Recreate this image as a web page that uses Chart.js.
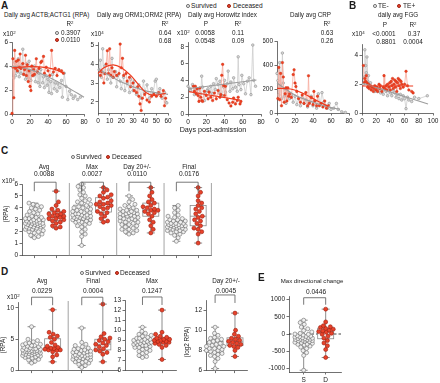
<!DOCTYPE html>
<html>
<head>
<meta charset="utf-8">
<script src="https://cdn.jsdelivr.net/npm/chart.js@4.4.1/dist/chart.umd.min.js"></script>
<style>
  body { margin: 0; background: #fff; }
  #fig { position: relative; width: 440px; height: 383px; overflow: hidden; font-family: "Liberation Sans", Arial, sans-serif; color: #1a1a1a; }
  #fig canvas { position: absolute; }
  .t { position: absolute; white-space: nowrap; line-height: 1; z-index: 2; }
  .L { font-weight: bold; }
  .sup { font-size: 0.68em; position: relative; top: -0.4em; }
  .dot { position: absolute; width: 3.8px; height: 3.8px; border-radius: 50%; box-sizing: border-box; z-index: 2; }
  .dot.s { background: #eee; border: 0.8px solid #666; }
  .dot.d { background: #e8432b; border: 0.8px solid #9b1c0e; }
</style>
</head>
<body>
<div id="fig"></div>
<script>
// ---- A: daily averages, [day, value] ----
const actbSurvived = [[1,3.9],[2,3.0],[3,4.3],[4,3.2],[5,4.0],[6,3.5],[7,4.6],[8,3.1],[9,3.9],[10,3.4],[11,4.1],[12,5.4],[13,3.3],[14,3.8],[15,2.9],[16,4.2],[17,3.6],[18,3.0],[19,4.4],[20,3.5],[21,2.8],[22,3.9],[24,3.2],[25,4.0],[26,2.7],[28,3.6],[29,2.6],[30,3.4],[31,2.3],[32,3.7],[34,2.6],[35,3.1],[36,2.2],[38,3.2],[39,2.4],[40,2.9],[41,1.8],[43,2.7],[44,1.7],[45,3.3],[47,2.1],[48,2.6],[50,1.9],[51,2.5],[53,2.2],[55,2.8],[56,1.4],[58,3.4],[60,2.3],[62,1.2],[64,1.9],[66,1.6],[68,1.3],[70,1.5],[73,1.2],[76,1.4]];
const actbDeceased = [[0,0.05],[1,4.6],[2,1.35],[3,5.3],[4,3.8],[5,4.4],[6,3.6],[7,4.5],[8,3.9],[9,5.0],[10,3.8],[12,4.2],[13,3.3],[14,3.7],[15,4.9],[16,3.2],[17,4.1],[18,2.7],[19,3.6],[20,2.3],[21,1.95],[22,4.0],[23,3.2],[24,3.7],[25,3.3],[27,4.6],[28,3.5],[30,3.8],[32,4.3],[33,4.4],[35,4.8],[36,3.4],[38,3.9],[40,3.6],[42,3.2],[44,5.3],[46,3.5],[48,3.8],[50,3.2],[52,3.7],[55,3.6],[57,3.4]];
const actbSurvivedFit = [[0,4.0],[20,3.7],[40,3.1],[60,2.3],[80,1.4]];
const actbDeceasedFit = [[0,3.85],[20,3.95],[40,3.85],[50,3.65],[57,3.4]];

const ormSurvived = [[1,3.7],[2,4.2],[3,3.3],[4,4.8],[5,3.5],[6,3.9],[8,3.2],[9,3.7],[11,3.0],[12,4.3],[13,3.3],[15,3.6],[16,2.8],[17,3.4],[19,3.1],[20,2.7],[22,3.3],[23,2.6],[25,3.0],[27,2.5],[28,3.2],[30,2.6],[31,3.1],[33,2.4],[35,2.9],[37,2.2],[39,3.1],[40,2.5],[42,2.9],[44,2.2],[46,2.7],[47,2.4],[49,3.1],[50,3.2],[51,2.4],[53,2.7],[55,2.2],[57,2.5],[58,2.0],[59,1.95]];
const ormDeceased = [[2,3.4],[3,3.6],[5,3.0],[6,3.5],[7,4.0],[8,4.7],[9,3.5],[10,4.8],[11,3.4],[12,3.8],[13,3.3],[14,3.6],[16,3.4],[18,3.5],[19,5.05],[20,3.8],[21,4.3],[22,3.4],[24,3.5],[25,3.1],[27,3.3],[28,2.8],[30,3.0],[31,2.6],[33,2.5],[34,2.8],[35,2.3],[36,1.9],[37,1.55],[38,2.2],[40,2.4],[42,2.1],[44,2.0],[46,2.3],[48,2.4],[50,2.3],[52,2.5],[54,2.3],[56,2.6],[57,1.8],[58,2.2]];
const ormSurvivedFit = [[0,3.75],[20,3.05],[40,2.6],[60,2.4]];
const ormDeceasedFit = [[0,3.5],[5,3.8],[13,3.95],[20,3.8],[28,3.4],[35,2.9],[41,2.5],[48,2.35],[58,2.45]];

const horowitzSurvived = [[0,3.3],[2,3.0],[3,2.8],[5,3.5],[7,2.3],[9,3.0],[10,2.5],[12,3.0],[14,2.4],[15,4.5],[16,3.2],[18,1.6],[19,2.4],[21,2.8],[22,3.0],[24,2.6],[25,3.3],[27,2.4],[28,3.6],[30,2.9],[31,4.2],[33,3.5],[34,2.5],[35,3.9],[37,2.2],[39,3.2],[40,4.0],[41,2.6],[43,3.6],[44,5.1],[46,2.7],[47,3.8],[49,3.0],[50,4.3],[52,3.2],[54,2.7],[55,6.8],[56,3.5],[58,2.9],[59,4.6],[61,3.6],[63,2.4],[65,3.9],[67,4.3],[69,2.3],[71,8.2],[72,4.0],[74,3.3]];
const horowitzDeceased = [[6,3.3],[7,2.7],[8,3.3],[9,2.4],[10,3.0],[11,2.2],[12,1.5],[13,3.1],[14,2.0],[15,1.6],[16,1.5],[18,2.7],[20,2.2],[22,1.8],[23,2.6],[25,2.0],[27,1.6],[29,2.5],[31,1.8],[33,2.8],[35,2.0],[36,2.3],[37,4.6],[38,5.9],[39,3.4],[40,2.2],[41,3.3],[43,1.7],[45,1.3],[47,0.95],[49,1.4],[50,1.9],[52,1.2],[54,1.6],[55,2.0],[57,1.2],[58,1.5]];
const horowitzSurvivedFit = [[0,3.0],[75,4.05]];
const horowitzDeceasedFit = [[1,2.65],[57,1.65]];

const crpSurvived = [[0,330],[1,270],[2,150],[3,420],[4,230],[5,120],[6,500],[7,250],[8,140],[9,200],[10,80],[12,180],[14,120],[16,150],[18,90],[20,140],[22,70],[24,120],[26,60],[28,130],[30,80],[32,110],[34,50],[36,90],[38,140],[40,60],[42,100],[44,40],[46,160],[48,70],[50,170],[52,90],[54,60],[56,40],[58,80],[60,30],[63,40],[66,80],[68,30],[72,10],[76,5]];
const crpDeceased = [[1,120],[2,380],[3,110],[4,330],[5,60],[6,420],[7,300],[8,90],[9,160],[10,210],[11,100],[12,210],[13,140],[14,160],[16,130],[18,320],[19,360],[20,250],[21,220],[22,180],[24,120],[26,90],[28,150],[30,80],[32,170],[34,60],[35,310],[36,80],[38,130],[40,70],[41,180],[42,100],[44,60],[45,140],[47,60],[49,80],[51,50],[53,100],[55,40],[57,60]];
const crpSurvivedFit = [[0,250],[20,150],[40,90],[60,45],[70,30]];
const crpDeceasedFit = [[0,205],[15,200],[30,160],[45,100],[57,55]];

// ---- B: FGG by TE status ----
const fggTeNeg = [[2,2.0],[3,2.5],[4,4.4],[5,3.3],[6,2.8],[7,3.9],[8,2.2],[9,2.6],[10,1.9],[12,2.1],[14,1.7],[16,1.8],[18,1.5],[20,1.7],[22,1.5],[24,1.7],[26,1.4],[28,1.6],[30,1.3],[32,1.7],[34,1.5],[36,1.2],[38,1.6],[40,1.4],[42,1.2],[44,1.6],[46,1.4],[48,1.1],[50,1.3],[52,1.0],[54,1.3],[56,0.9],[58,1.2],[60,1.0],[62,0.3],[64,1.1],[66,0.9],[70,0.8],[74,1.1],[80,1.0],[92,1.2]];
const fggTePos = [[2,3.3],[3,2.1],[4,2.4],[5,2.2],[6,2.6],[7,2.1],[8,1.8],[9,2.0],[10,1.7],[12,1.9],[13,1.6],[14,1.8],[16,1.5],[17,1.7],[18,1.9],[20,1.6],[21,1.8],[22,1.5],[24,2.0],[25,1.7],[26,1.9],[28,1.5],[30,1.8],[31,2.6],[32,1.7],[34,1.9],[35,1.6],[36,2.0],[38,1.8],[39,2.1],[40,1.6],[41,2.2],[42,1.9],[43,2.4],[44,1.7],[45,2.0],[46,2.3],[47,1.8],[48,2.2],[49,1.5],[50,2.1],[51,2.4],[52,1.9],[53,2.3],[54,1.7],[55,2.2],[56,2.0],[58,1.8],[60,2.0],[62,2.9],[64,1.9],[66,1.6],[70,1.5],[72,1.4]];
const fggTeNegFit = [[0,2.08],[93,0.62]];
const fggTePosFit = [[0,1.88],[72,1.88]];

// ---- C: per-patient summaries (x10^4 RPA) ----
const cAvgS = [1.5,1.6,1.7,1.8,1.9,2.0,2.0,2.1,2.2,2.2,2.3,2.3,2.4,2.4,2.4,2.5,2.5,2.5,2.6,2.6,2.6,2.7,2.7,2.7,2.7,2.8,2.8,2.8,2.9,2.9,2.9,3.0,3.0,3.0,3.1,3.1,3.2,3.2,3.3,3.4,3.5,3.6,3.7,3.8,3.9,4.0,4.1,4.2,4.3,4.4];
const cAvgD = [2.3,2.4,2.5,2.7,2.8,2.9,3.0,3.1,3.1,3.2,3.3,3.3,3.4,3.5,3.5,3.6,3.7,3.8,3.9,4.2,4.5,5.4];
const cMaxS = [0.85,1.6,1.8,2.0,2.2,2.4,2.5,2.6,2.7,2.8,2.8,2.9,2.9,3.0,3.0,3.1,3.1,3.2,3.2,3.2,3.3,3.3,3.3,3.4,3.4,3.4,3.5,3.5,3.6,3.6,3.7,3.7,3.8,3.8,3.9,4.0,4.0,4.1,4.2,4.3,4.4,4.5,4.6,4.7,4.8,5.0,5.1,5.3,5.5,5.7,5.8,6.0];
const cMaxD = [2.8,2.9,3.1,3.3,3.5,3.6,3.7,3.9,4.0,4.1,4.2,4.3,4.3,4.4,4.5,4.6,4.8,4.9,5.0,5.1,5.3,5.5,5.7];
const cDay20S = [1.8,1.9,2.0,2.1,2.2,2.2,2.3,2.4,2.5,2.6,2.6,2.7,2.8,2.8,2.9,3.0,3.0,3.1,3.1,3.2,3.2,3.3,3.3,3.4,3.4,3.5,3.5,3.5,3.6,3.6,3.7,3.7,3.8,3.8,3.9,4.0,4.1,4.2,4.3,4.5,4.7,5.0];
const cDay20D = [1.9,2.2,2.5,2.8,3.0,3.3,3.5,3.6,3.7,3.8,3.8,3.9,4.0,4.1,4.2,4.4,4.5,4.7,5.0,5.3,5.7];
const cFinalS = [1.2,1.5,1.7,1.8,1.9,2.0,2.0,2.1,2.1,2.2,2.2,2.3,2.3,2.3,2.4,2.4,2.4,2.5,2.5,2.5,2.5,2.6,2.6,2.6,2.7,2.7,2.7,2.8,2.8,2.9,2.9,3.0,3.0,3.1,3.2,3.3,3.4,3.6,3.8,4.0,4.2];
const cFinalD = [1.05,1.8,2.0,2.2,2.3,2.5,2.7,2.9,3.0,3.2,3.3,3.5,3.7,3.9,4.0,4.2,4.4,4.6,5.0,5.3,5.7];

// ---- D ----
const dAvgS = [1.2,1.5,1.7,1.8,2.0,2.1,2.2,2.3,2.3,2.4,2.5,2.5,2.6,2.7,2.7,2.8,2.8,2.9,2.9,3.0,3.0,3.1,3.1,3.1,3.2,3.2,3.3,3.3,3.4,3.4,3.5,3.5,3.6,3.7,3.8,3.9,4.0,4.0,4.1,4.2,4.3,4.4,4.6,4.8,5.0,7.0];
const dAvgD = [1.4,2.2,2.5,3.0,3.2,3.3,3.3,3.4,3.5,3.6,3.7,3.9,4.1,4.5,5.0,5.3,5.5,5.8,6.1,9.7];
const dFinalS = [0.5,0.8,1.0,1.2,1.3,1.4,1.5,1.6,1.7,1.8,1.9,2.0,2.0,2.1,2.2,2.3,2.3,2.4,2.4,2.5,2.5,2.6,2.7,2.8,2.9,3.0,3.0,3.1,3.2,3.3,3.4,3.5,3.6,3.8,4.0,4.2,4.5,6.8];
const dFinalD = [1.4,2.6,2.9,3.1,3.3,3.5,3.8,4.0,4.2,4.4,4.6,4.8,5.0,5.2,5.4,5.9,10.6];
const dMaxS = [7.3,7.4,7.5,7.7,7.8,7.9,8.0,8.1,8.2,8.3,8.3,8.4,8.5,8.5,8.6,8.6,8.7,8.7,8.8,8.8,8.8,8.9,8.9,9.0,9.0,9.1,9.1,9.2,9.2,9.3,9.4,9.5,9.6,9.7,9.9,10.3];
const dMaxD = [7.1,8.3,8.5,8.6,8.7,8.8,8.8,8.9,8.9,9.0,9.0,9.1,9.1,9.2,9.3,9.4,9.6,9.8,12.0];
const dDay20S = [6.2,6.9,7.2,7.4,7.5,7.6,7.7,7.8,7.9,8.0,8.0,8.1,8.2,8.2,8.3,8.4,8.4,8.5,8.6,8.7,8.8,8.9,9.0,9.1,9.2,9.3,9.5,9.7,10.3];
const dDay20D = [7.4,8.0,8.3,8.4,8.5,8.6,8.7,8.8,8.9,9.0,9.1,9.2,9.4,9.6,10.0,11.7];

// ---- E ----
const eChangeS = [-1050,-620,-540,-480,-420,-380,-350,-320,-300,-290,-270,-250,-240,-220,-210,-200,-190,-180,-170,-160,-150,-150,-140,-130,-120,-110,-100,-90,-80,-70,-60,-50,-30,-10,0,20,60,100,150,200,280,330,400];
const eChangeD = [-680,-450,-340,-260,-190,-120,-60,-10,20,50,70,90,110,140,160,190,210,240,350,720];

const fig = document.getElementById('fig');
Chart.defaults.font.family = '"Liberation Sans", Arial, sans-serif';
Chart.defaults.font.size = 6.5;
Chart.defaults.color = '#1a1a1a';

function T(x, y, html, align, size, cls) {
  const d = document.createElement('div');
  const fs = size || 6.4;
  d.className = 't ' + (cls || '');
  d.innerHTML = html;
  d.style.fontSize = fs + 'px';
  d.style.left = x + 'px';
  d.style.top = (y - fs / 2) + 'px';
  if (align === 'c') d.style.transform = 'translateX(-50%)';
  if (align === 'v') { d.style.top = y + 'px'; d.style.transform = 'translate(-50%,-50%) rotate(-90deg)'; }
  fig.appendChild(d);
}
function dot(x, y, kind) {
  const d = document.createElement('div');
  d.className = 'dot ' + kind;
  d.style.left = (x - 1.9) + 'px';
  d.style.top = (y - 1.9) + 'px';
  fig.appendChild(d);
}

function makeCanvas(area, yW, xH, pt, pr) {
  const c = document.createElement('canvas');
  const w = area.r - area.l + yW + pr, h = area.b - area.t + pt + xH;
  c.width = w; c.height = h;
  c.style.left = (area.l - yW) + 'px';
  c.style.top = (area.t - pt) + 'px';
  c.style.width = w + 'px';
  c.style.height = h + 'px';
  fig.appendChild(c);
  return c;
}

function axis(min, max, ticks, size, labels) {
  return {
    type: 'linear', min, max,
    afterBuildTicks: s => { s.ticks = ticks.map(v => ({ value: v })); },
    afterFit: s => { if (s.isHorizontal()) s.height = size; else s.width = size; },
    grid: { drawOnChartArea: false, tickLength: 2.5, color: '#333', lineWidth: 0.7 },
    border: { color: '#333', width: 0.7 },
    ticks: { padding: 1.5, maxRotation: 0, autoSkip: false, font: { size: 6.5 },
      callback: (v, i) => labels ? labels[i] : String(v) }
  };
}

function baseOptions(pt, pr, xs, ys) {
  return {
    responsive: false, animation: false, devicePixelRatio: 1,
    layout: { padding: { left: 0, top: pt, right: pr, bottom: 0 } },
    plugins: { legend: { display: false }, tooltip: { enabled: false } },
    scales: { x: xs, y: ys }
  };
}

const pts = pairs => pairs.map(([x, y]) => ({ x, y }));

function linePanel(area, xr, xt, yr, yt, surv, dec, survFit, decFit) {
  const yW = 14, xH = 12, pt = 6, pr = 8;
  const c = makeCanvas(area, yW, xH, pt, pr);
  new Chart(c, {
    type: 'scatter',
    data: { datasets: [
      { data: pts(decFit), showLine: true, borderColor: '#ee3a1e', borderWidth: 1.2, pointRadius: 0, cubicInterpolationMode: 'monotone', order: 0, clip: false },
      { data: pts(survFit), showLine: true, borderColor: '#9d9d9d', borderWidth: 1.1, pointRadius: 0, cubicInterpolationMode: 'monotone', order: 1, clip: false },
      { data: pts(dec), showLine: true, borderColor: '#f7ab9d', borderWidth: 0.8, pointRadius: 1.3, pointBackgroundColor: '#f0401f', pointBorderColor: '#c8301a', pointBorderWidth: 0.4, order: 2, clip: false },
      { data: pts(surv), showLine: true, borderColor: '#cdcdcd', borderWidth: 0.8, pointRadius: 1.3, pointBackgroundColor: '#d6d6d6', pointBorderColor: '#858585', pointBorderWidth: 0.5, order: 3, clip: false }
    ] },
    options: baseOptions(pt, pr, axis(xr[0], xr[1], xt, xH), axis(yr[0], yr[1], yt, yW))
  });
}

function quant(s, p) {
  const i = (s.length - 1) * p, lo = Math.floor(i), hi = Math.ceil(i);
  return s[lo] + (s[hi] - s[lo]) * (i - lo);
}

// beeswarm with a capped half-width: horizontal offsets computed from the values
function swarm(vals, cx, pxX, pxY, y0, md, cap) {
  const placed = [];
  const steps = Math.floor(cap / 0.6);
  return vals.slice().sort((a, b) => a - b).map(v => {
    const py = (v - y0) * pxY;
    let best = 0, bestD = -1;
    for (let k = 0; k <= steps * 2; k++) {
      const o = (k % 2 ? 1 : -1) * Math.ceil(k / 2) * 0.6;
      const dmin = placed.reduce((m, p) => Math.min(m, Math.hypot(p.x - o, p.y - py)), Infinity);
      if (dmin >= md) { best = o; break; }
      if (dmin > bestD) { bestD = dmin; best = o; }
    }
    placed.push({ x: best, y: py });
    return { x: cx + best / pxX, y: v };
  });
}

function boxPlugin(groups, o) {
  return {
    id: 'boxes',
    beforeDatasetsDraw(chart) {
      const { ctx, chartArea: a, scales: { x, y } } = chart;
      ctx.save();
      ctx.lineWidth = 0.8;
      ctx.strokeStyle = '#8c8c8c';
      (o.separators || []).forEach(v => {
        const px = x.getPixelForValue(v);
        ctx.beginPath(); ctx.moveTo(px, a.top - 1); ctx.lineTo(px, a.bottom); ctx.stroke();
      });
      if (o.zero) {
        ctx.setLineDash([2.5, 2]); ctx.strokeStyle = '#111';
        const py = y.getPixelForValue(0);
        ctx.beginPath(); ctx.moveTo(a.left, py); ctx.lineTo(a.right, py); ctx.stroke();
        ctx.setLineDash([]);
      }
      const P = v => y.getPixelForValue(v);
      groups.forEach((g, i) => {
        [[g.s, i + o.pos[0]], [g.d, i + o.pos[1]]].forEach(([vals, xv]) => {
          const s = vals.slice().sort((p, q) => p - q);
          const cx = x.getPixelForValue(xv);
          const lo = P(s[0]), hi = P(s[s.length - 1]);
          ctx.strokeStyle = '#707070';
          ctx.beginPath();
          ctx.moveTo(cx, lo); ctx.lineTo(cx, hi);
          ctx.moveTo(cx - 4, lo); ctx.lineTo(cx + 4, lo);
          ctx.moveTo(cx - 4, hi); ctx.lineTo(cx + 4, hi);
          ctx.stroke();
          const q1 = P(quant(s, 0.25)), q3 = P(quant(s, 0.75)), md = P(quant(s, 0.5));
          ctx.fillStyle = '#fff';
          ctx.fillRect(cx - 8, q3, 16, q1 - q3);
          ctx.strokeStyle = '#8a8a8a';
          ctx.strokeRect(cx - 8, q3, 16, q1 - q3);
          ctx.beginPath(); ctx.moveTo(cx - 8, md); ctx.lineTo(cx + 8, md); ctx.stroke();
        });
      });
      ctx.restore();
    },
    afterDatasetsDraw(chart) {
      const { ctx, scales: { x, y } } = chart;
      ctx.save();
      ctx.strokeStyle = '#555'; ctx.lineWidth = 0.8;
      groups.forEach((g, i) => {
        const x1 = x.getPixelForValue(i + o.pos[0]), x2 = x.getPixelForValue(i + o.pos[1]);
        const top = y.getPixelForValue(o.bracket);
        ctx.beginPath();
        ctx.moveTo(x1, top + o.leg); ctx.lineTo(x1, top); ctx.lineTo(x2, top); ctx.lineTo(x2, top + o.leg);
        ctx.stroke();
      });
      ctx.restore();
    }
  };
}

function boxPanel(area, yr, yt, groups, o) {
  const yW = o.yW, xH = o.xH || 4, pt = 16, pr = 3;
  const c = makeCanvas(area, yW, xH, pt, pr);
  const n = groups.length;
  const pxX = (area.r - area.l) / n, pxY = (area.b - area.t) / (yr[1] - yr[0]);
  const ds = [], tickPos = [];
  groups.forEach((g, i) => {
    tickPos.push(i + o.pos[0], i + o.pos[1]);
    ds.push({ data: swarm(g.d, i + o.pos[1], pxX, pxY, yr[0], 4.2, 8), pointRadius: 2.0, pointBackgroundColor: '#e8432b', pointBorderColor: '#9b1c0e', pointBorderWidth: 0.6, clip: false });
    ds.push({ data: swarm(g.s, i + o.pos[0], pxX, pxY, yr[0], 4.0, 9), pointRadius: 2.0, pointBackgroundColor: '#f0f0f0', pointBorderColor: '#6a6a6a', pointBorderWidth: 0.6, clip: false });
  });
  new Chart(c, {
    type: 'scatter',
    data: { datasets: ds },
    options: baseOptions(pt, pr,
      axis(0, n, tickPos, xH, o.xLabels || tickPos.map(() => '')),
      axis(yr[0], yr[1], yt, yW, o.yLabels)),
    plugins: [boxPlugin(groups, o)]
  });
}

// ---------- row A / B ----------
linePanel({ l: 12, t: 42, r: 84, b: 114 }, [0, 80], [0, 20, 40, 60, 80], [0, 6], [0, 2, 4, 6],
  actbSurvived, actbDeceased, actbSurvivedFit, actbDeceasedFit);
linePanel({ l: 98, t: 42, r: 168, b: 113 }, [0, 60], [0, 10, 20, 30, 40, 50, 60], [1.42, 5.16], [2, 3, 4, 5],
  ormSurvived, ormDeceased, ormSurvivedFit, ormDeceasedFit);
linePanel({ l: 188, t: 42, r: 261, b: 114 }, [0, 80], [0, 20, 40, 60, 80], [0, 8.56], [0, 2, 4, 6, 8],
  horowitzSurvived, horowitzDeceased, horowitzSurvivedFit, horowitzDeceasedFit);
linePanel({ l: 277, t: 41, r: 349, b: 113 }, [0, 80], [0, 20, 40, 60, 80], [0, 600], [0, 200, 400, 600],
  crpSurvived, crpDeceased, crpSurvivedFit, crpDeceasedFit);
linePanel({ l: 362, t: 44, r: 433, b: 113 }, [0, 100], [0, 20, 40, 60, 80, 100], [0, 4.8], [0, 2, 4],
  fggTeNeg, fggTePos, fggTeNegFit, fggTePosFit);

// ---------- row C ----------
boxPanel({ l: 22, t: 184, r: 213, b: 257 }, [0, 6], [0, 1, 2, 3, 4, 5, 6],
  [{ s: cAvgS, d: cAvgD }, { s: cMaxS, d: cMaxD }, { s: cDay20S, d: cDay20D }, { s: cFinalS, d: cFinalD }],
  { yW: 10, pos: [0.26, 0.72], separators: [1, 2, 3, 4], bracket: 6.15, leg: 9 });

// ---------- row D ----------
boxPanel({ l: 18, t: 302, r: 120, b: 372 }, [0, 10.94], [0, 5, 10],
  [{ s: dAvgS, d: dAvgD }, { s: dFinalS, d: dFinalD }],
  { yW: 13, pos: [0.27, 0.69], separators: [1], bracket: 11.7, leg: 8 });
boxPanel({ l: 125, t: 300, r: 178, b: 372 }, [6, 13], [6, 7, 8, 9, 10, 11, 12, 13],
  [{ s: dMaxS, d: dMaxD }],
  { yW: 12, pos: [0.34, 0.72], bracket: 13.3, leg: 8 });
boxPanel({ l: 206, t: 300, r: 249, b: 372 }, [6, 13], [6, 8, 10, 12],
  [{ s: dDay20S, d: dDay20D }],
  { yW: 11, pos: [0.22, 0.7], bracket: 13.5, leg: 8 });

// ---------- E ----------
boxPanel({ l: 289, t: 296, r: 343, b: 372 }, [-1100, 1100], [-1000, -500, 0, 500, 1000],
  [{ s: eChangeS, d: eChangeD }],
  { yW: 24, xH: 12, pos: [0.28, 0.7], xLabels: ['S', 'D'], zero: true, bracket: 1050, leg: 7 });

// ---------- text ----------
T(1, 6, 'A', 'l', 10, 'L');
dot(188, 6, 's'); T(191, 6, 'Survived', 'l', 6.6);
dot(229, 6, 'd'); T(233, 6, 'Deceased', 'l', 6.6);
T(4, 15, 'Daily avg ACTB;ACTG1 (RPA)', 'l', 6.3);
T(70, 24, 'R<span class="sup">2</span>', 'c');
dot(57, 33, 's'); T(61, 33, '0.3907');
dot(57, 40, 'd'); T(61, 40, '0.0110');
T(3, 34, 'x10<span class="sup">2</span>');
T(97, 15, 'Daily avg ORM1;ORM2 (RPA)', 'l', 6.3);
T(91, 34, 'x10<span class="sup">4</span>');
T(165, 24, 'R<span class="sup">2</span>', 'c'); T(165, 33, '0.64', 'c'); T(165, 41, '0.68', 'c');
T(188, 15, 'Daily avg Horowitz index', 'l', 6.3);
T(177, 33, 'x10<span class="sup">2</span>');
T(206, 24, 'P', 'c'); T(205, 33, '0.0058', 'c'); T(205, 41, '0.0548', 'c');
T(238, 24, 'R<span class="sup">2</span>', 'c'); T(238, 33, '0.11', 'c'); T(238, 41, '0.09', 'c');
T(290, 15, 'Daily avg CRP', 'l', 6.3);
T(327, 24, 'R<span class="sup">2</span>', 'c'); T(327, 33, '0.63', 'c'); T(327, 41, '0.26', 'c');
T(213, 130, 'Days post-admission', 'c', 7.2);

T(349, 6, 'B', 'l', 10, 'L');
dot(375, 6, 's'); T(378, 6, 'TE-', 'l', 6.6);
dot(399, 6, 'd'); T(403, 6, 'TE+', 'l', 6.6);
T(378, 15, 'daily avg FGG', 'l', 6.3);
T(385, 25, 'P', 'c'); T(384, 34, '&lt;0.0001', 'c'); T(386, 42, '0.8801', 'c');
T(413, 25, 'R<span class="sup">2</span>', 'c'); T(414, 34, '0.37', 'c'); T(413, 42, '0.0004', 'c');
T(352, 34, 'x10<span class="sup">4</span>');

T(1, 151, 'C', 'l', 10, 'L');
dot(73, 157, 's'); T(76, 157, 'Survived', 'l', 6.6);
dot(108, 157, 'd'); T(112, 157, 'Deceased', 'l', 6.6);
[['Avg', '0.0088', 44], ['Max', '0.0027', 92], ['Day 20+/-', '0.0110', 137], ['Final', '0.0176', 189]].forEach(([a, p, x]) => {
  T(x, 167, a, 'c', 6.3); T(x, 174.5, p, 'c', 6.6);
});
T(2, 181, 'x10<span class="sup">4</span>');
T(6, 214, '(RPA)', 'v');

T(1, 272, 'D', 'l', 10, 'L');
dot(82, 273, 's'); T(85, 273, 'Survived', 'l', 6.6);
dot(117, 273, 'd'); T(120, 273, 'Deceased', 'l', 6.6);
[['Avg', '0.0229', 42], ['Final', '0.0004', 93], ['Max', '0.1247', 152], ['Day 20+/-', '0.0045', 226]].forEach(([a, p, x]) => {
  T(x, 281, a, 'c', 6.3); T(x, 291.5, p, 'c', 6.6);
});
T(7, 297, 'x10<span class="sup">2</span>');
T(3, 345, '(RPA)', 'v');
T(187, 342, '(log2 RPA)', 'v');

T(258, 278, 'E', 'l', 10, 'L');
T(312, 281, 'Max directional change', 'c', 6.1);
T(316, 292, '0.0446', 'c', 6.6);
</script>
</body>
</html>
